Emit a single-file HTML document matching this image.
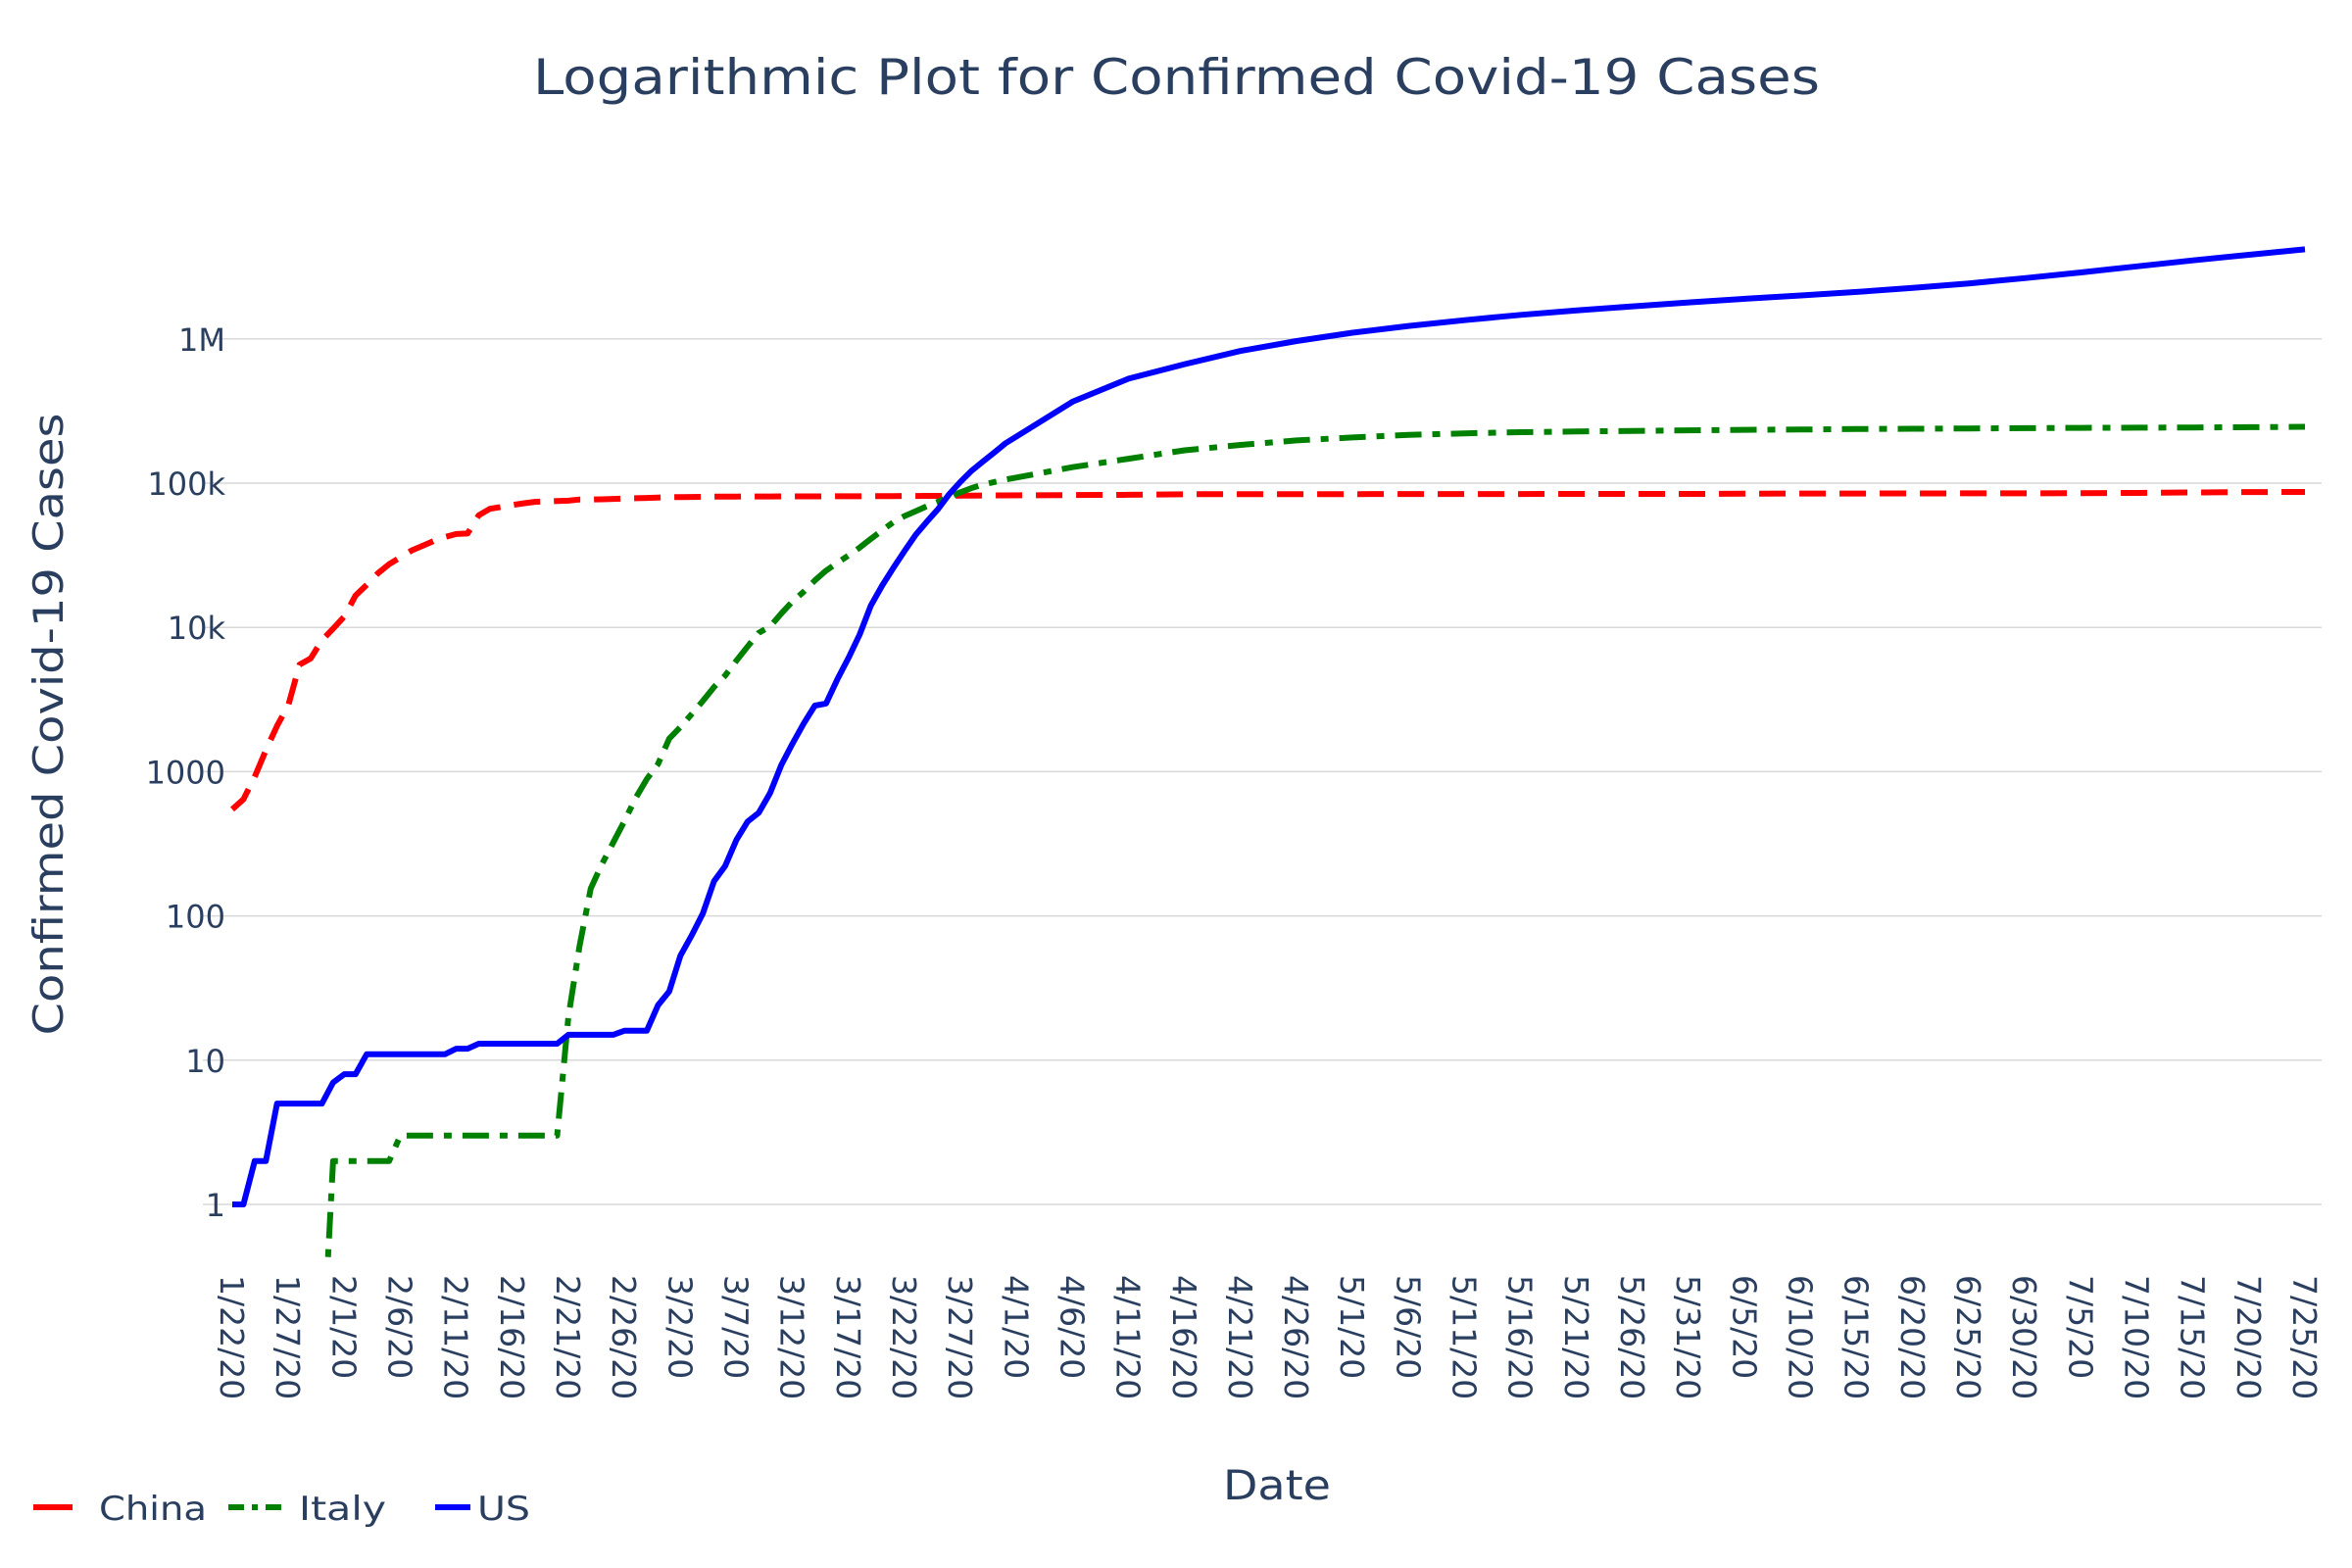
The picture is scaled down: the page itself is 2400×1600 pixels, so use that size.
<!DOCTYPE html>
<html><head><meta charset="utf-8"><style>
html,body{margin:0;padding:0;background:#fff}
svg{display:block;font-family:"DejaVu Sans","Liberation Sans",sans-serif;fill:#2a3f5f}
</style></head><body>
<svg id="chart" width="2400" height="1600" viewBox="0 0 2400 1600">
<text x="544" y="96" font-size="50" textLength="1313" lengthAdjust="spacingAndGlyphs" fill="#2a3f5f">Logarithmic Plot for Confirmed Covid-19 Cases</text>
<g id="grid"></g>
<g id="yticks"></g>
<g id="xticks"></g>
<defs><clipPath id="clip"><rect x="207" y="150" width="2162" height="1133"/></clipPath></defs>
<g id="series" clip-path="url(#clip)"></g>
<text transform="translate(64,739) rotate(-90)" text-anchor="middle" font-size="42" textLength="635" lengthAdjust="spacingAndGlyphs">Confirmed Covid-19 Cases</text>
<text x="1303" y="1530" text-anchor="middle" font-size="42" textLength="110" lengthAdjust="spacingAndGlyphs">Date</text>
<g>
 <g><line x1="34" y1="1538" x2="74" y2="1538" stroke="#ff0000" stroke-width="6"/><text x="101" y="1551" font-size="34" textLength="110" lengthAdjust="spacingAndGlyphs">China</text></g>
 <g><line x1="233" y1="1538" x2="295" y2="1538" stroke="#008000" stroke-width="6" stroke-dasharray="16 8 6 8"/><text x="305" y="1551" font-size="34" textLength="89" lengthAdjust="spacingAndGlyphs">Italy</text></g>
 <g><line x1="444" y1="1538" x2="480" y2="1538" stroke="#0000ff" stroke-width="6"/><text x="487" y="1551" font-size="34" textLength="54" lengthAdjust="spacingAndGlyphs">US</text></g>
</g>
</svg>
<script>
const dayIdx=[0,1,2,3,4,5,6,7,8,9,10,11,12,13,14,15,16,17,18,19,20,21,22,23,24,25,26,27,28,29,30,31,32,33,34,35,36,37,38,39,40,41,42,43,44,45,46,47,48,49,50,51,52,53,54,55,56,57,58,59,60,61,62,63,64,65,66,67,68,69,75,80,85,90,95,100,105,110,115,120,125,130,135,140,145,150,155,160,165,170,175,180,185];
const china=[548,643,920,1406,2075,2877,5509,6087,8141,9802,11891,16630,19716,23707,27440,30587,34110,36814,39829,42354,44386,44759,59895,66358,68413,70513,72434,74211,74619,75077,75550,77001,77022,77241,77754,78166,78600,78928,79356,79932,80136,80261,80386,80537,80690,80770,80823,80860,80887,80921,80932,80945,80977,81003,81033,81058,81102,81156,81250,81305,81435,81498,81591,81661,81782,81897,81999,82122,82198,82279,82665,83014,83760,83868,83918,83966,84010,84044,84102,84128,84186,84228,84494,84673,84780,84857,84925,85023,85246,85565,86146,86700,86800];
const italy=[0,0,0,0,0,0,0,0,0,2,2,2,2,2,2,3,3,3,3,3,3,3,3,3,3,3,3,3,3,3,20,62,155,229,322,453,655,888,1128,1694,2036,2502,3089,3858,4636,5883,7375,9172,10149,12462,15113,17660,21157,24747,27980,31506,35713,41035,47021,53578,59138,63927,69176,74386,80589,86498,92472,97689,101739,105792,128948,147577,168941,183957,197675,207428,215858,221216,225435,228006,230158,232248,234013,235278,236989,238159,239410,240578,241611,242363,243061,244216,245864];
const us=[1,1,2,2,5,5,5,5,5,7,8,8,11,11,11,11,11,11,11,11,12,12,13,13,13,13,13,13,13,13,15,15,15,15,15,16,16,16,24,30,53,73,104,174,222,337,451,519,711,1109,1561,2157,2870,2968,4360,6141,8914,14153,19479,25818,33756,43845,54108,66044,84080,102254,122054,141194,162690,188320,366667,529951,667801,825041,965910,1103461,1229331,1347881,1467820,1577147,1681418,1790191,1897380,2000464,2114026,2255119,2422299,2636538,2888730,3184573,3499398,3830010,4178730];
const xTickLabels=["1/22/20","1/27/20","2/1/20","2/6/20","2/11/20","2/16/20","2/21/20","2/26/20","3/2/20","3/7/20","3/12/20","3/17/20","3/22/20","3/27/20","4/1/20","4/6/20","4/11/20","4/16/20","4/21/20","4/26/20","5/1/20","5/6/20","5/11/20","5/16/20","5/21/20","5/26/20","5/31/20","6/5/20","6/10/20","6/15/20","6/20/20","6/25/20","6/30/20","7/5/20","7/10/20","7/15/20","7/20/20","7/25/20"];
const yTickVals=[1,10,100,1000,10000,100000,1000000];
const yTickLabels=["1","10","100","1000","10k","100k","1M"];
const NS="http://www.w3.org/2000/svg";
function xs(d){return 237+d*(2352-237)/185;}
function ys(v){return v<=0?1400:1229-Math.log10(v)*147.2;}
const grid=document.getElementById('grid'),yt=document.getElementById('yticks'),xt=document.getElementById('xticks'),ser=document.getElementById('series');
yTickVals.forEach((v,i)=>{
 const l=document.createElementNS(NS,'line');
 l.setAttribute('x1',207);l.setAttribute('x2',2369);l.setAttribute('y1',ys(v));l.setAttribute('y2',ys(v));
 l.setAttribute('stroke','#d8d8d8');l.setAttribute('stroke-width','1.5');
 
 
 grid.appendChild(l);
 const t=document.createElementNS(NS,'text');
 t.setAttribute('x',230);t.setAttribute('y',ys(v)+12);t.setAttribute('text-anchor','end');t.setAttribute('font-size','32');
 t.textContent=yTickLabels[i];
 
 
 yt.appendChild(t);
});
xTickLabels.forEach((s,i)=>{
 const t=document.createElementNS(NS,'text');
 const x=xs(i*5);
 t.setAttribute('transform','translate('+(x-12)+',1301) rotate(90)');
 t.setAttribute('font-size','33');
 t.textContent=s;
 
 
 xt.appendChild(t);
});
function draw(vals,color,dash,name){
 const p=document.createElementNS(NS,'polyline');
 p.setAttribute('points',vals.map((v,i)=>xs(dayIdx[i]).toFixed(1)+','+ys(v).toFixed(1)).join(' '));
 p.setAttribute('fill','none');p.setAttribute('stroke',color);p.setAttribute('stroke-width','6');
 p.setAttribute('stroke-linejoin','round');
 if(dash)p.setAttribute('stroke-dasharray',dash);
 
 
 ser.appendChild(p);
}
draw(china,'#ff0000','27 14','china-line');
draw(italy,'#008000','27 11 8 11','italy-line');
draw(us,'#0000ff',null,'us-line');
</script>
</body></html>
